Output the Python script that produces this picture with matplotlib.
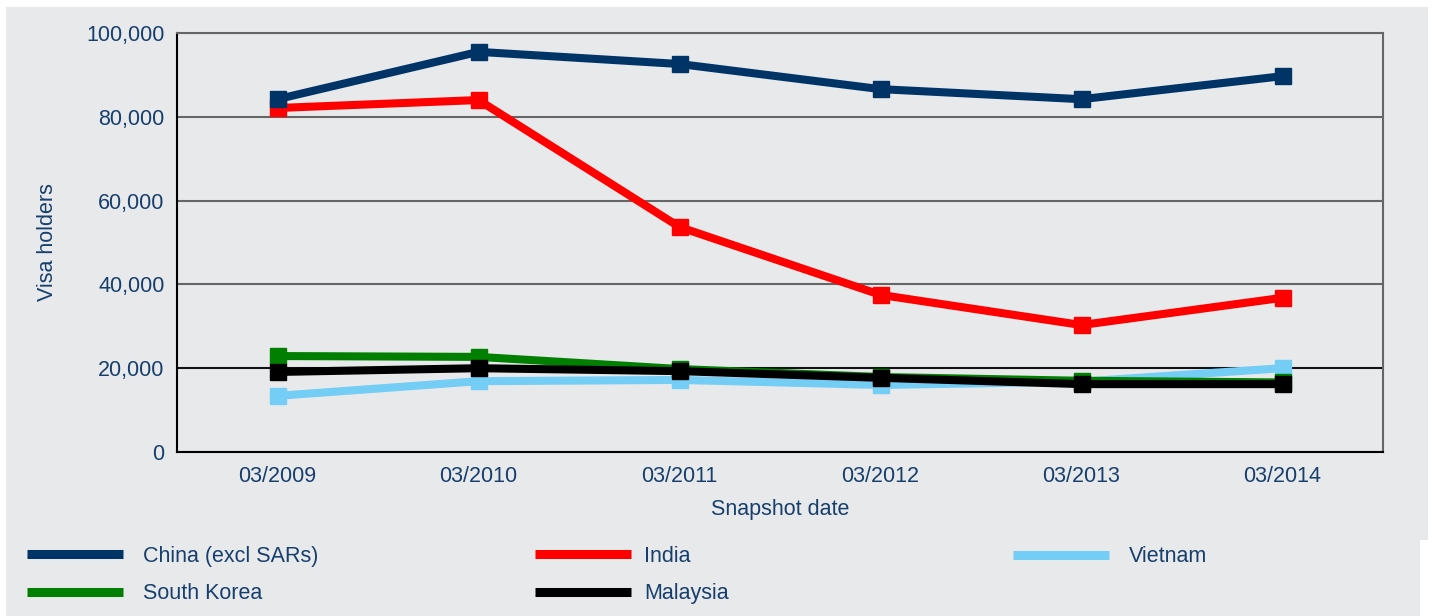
import matplotlib.pyplot as plt
from matplotlib.patches import Rectangle
from matplotlib.ticker import FuncFormatter

plt.rcParams['font.family'] = ['Liberation Sans', 'DejaVu Sans']

dates = ['03/2009', '03/2010', '03/2011', '03/2012', '03/2013', '03/2014']
china = [84200, 95500, 92600, 86600, 84200, 89700]
india = [82100, 84000, 53700, 37500, 30300, 36800]
vietnam = [13400, 16900, 17200, 16000, 16800, 20000]
south_korea = [22900, 22700, 19800, 17900, 17000, 16600]
malaysia = [19100, 20000, 19300, 17700, 16200, 16200]

text_col = '#173f6d'
bg = '#e8e9eb'
fs = 15.5

fig = plt.figure(figsize=(14.33, 6.16), dpi=100, facecolor='white')
fig.patches.append(Rectangle((6/1433, 76/616), (1428-6)/1433, 1 - 83/616,
                             transform=fig.transFigure, facecolor=bg,
                             edgecolor='none', zorder=-10))
fig.patches.append(Rectangle((6/1433, 0), (1420-6)/1433, 80/616,
                             transform=fig.transFigure, facecolor=bg,
                             edgecolor='none', zorder=-10))
ax = fig.add_axes([177/1433, 164/616, 1206/1433, 419/616])
ax.set_facecolor(bg)

x = list(range(len(dates)))
series = [
    ('China (excl SARs)', china, '#003466'),
    ('India', india, '#ff0000'),
    ('Vietnam', vietnam, '#73cdf4'),
    ('South Korea', south_korea, '#007f00'),
    ('Malaysia', malaysia, '#000000'),
]
# vietnam under korea under malaysia
lines = {}
for i, z in zip([2, 3, 4, 1, 0], [3, 4, 5, 6, 7]):
    name, vals, col = series[i]
    ln, = ax.plot(x, vals, color=col, lw=5.8, marker='s', ms=12,
                  solid_joinstyle='miter', label=name, zorder=z)
    lines[i] = ln

ax.set_xlim(-0.5, 5.5)
ax.set_ylim(0, 100000)
ax.set_yticks(range(0, 100001, 20000))
ax.yaxis.set_major_formatter(FuncFormatter(lambda v, p: f'{int(v):,}'))
ax.set_xticks(x)
ax.set_xticklabels(dates)
ax.tick_params(length=0, labelsize=fs, colors=text_col)
ax.tick_params(axis='x', pad=10)
ax.tick_params(axis='y', pad=9)

ax.grid(axis='y', color='#666666', lw=1.5, zorder=1)
ax.axhline(20000, color='black', lw=1.2, zorder=1.5)
ax.set_axisbelow(True)
for s in ['left', 'bottom']:
    ax.spines[s].set_color('black')
    ax.spines[s].set_linewidth(1.5)
for s in ['top', 'right']:
    ax.spines[s].set_color('#666666')
    ax.spines[s].set_linewidth(1.5)

ax.set_ylabel('Visa holders', color=text_col, fontsize=fs, labelpad=20)
ax.set_xlabel('Snapshot date', color=text_col, fontsize=fs, labelpad=9)

# legend: three columns, placed separately
columns = [([0, 3], 27, 0.93), ([1, 4], 535, 0.6), ([2], 1013, 0.93)]
for idx, xpos, pad in columns:
    hs = [lines[i] for i in idx]
    ls = [series[i][0] for i in idx]
    yanchor = 41 / 616 if len(idx) == 2 else 59 / 616
    leg = fig.legend(hs, ls, loc='center left',
                     bbox_to_anchor=(xpos / 1433, yanchor), frameon=False,
                     fontsize=fs, handlelength=4.46, handletextpad=pad,
                     labelspacing=0.75, borderpad=0, borderaxespad=0)
    for h in leg.get_lines():
        h.set_marker('')
        h.set_linewidth(6.5)
        h.set_solid_capstyle('butt')
    for t in leg.get_texts():
        t.set_color(text_col)

fig.savefig('out.png', dpi=100, facecolor='white')
